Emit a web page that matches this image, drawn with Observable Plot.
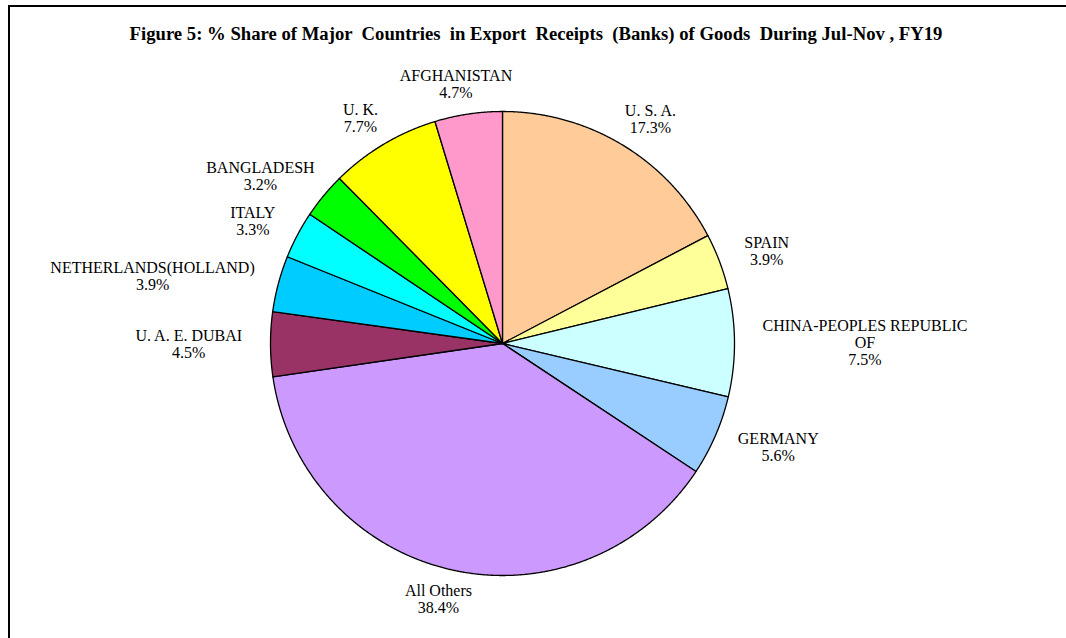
<!DOCTYPE html>
<html><head><meta charset="utf-8">
<script src="https://cdn.jsdelivr.net/npm/d3@7"></script>
<script src="https://cdn.jsdelivr.net/npm/@observablehq/plot@0.6"></script>
<style>
html,body{margin:0;padding:0;background:#fff;width:1066px;height:638px;overflow:hidden;}
#frame{position:absolute;left:8px;top:5px;width:1100px;height:700px;border-left:2px solid #000;border-top:2px solid #000;}
#title{position:absolute;left:0;top:17px;width:1052px;text-align:center;font-family:"Liberation Serif","Times New Roman",serif;font-weight:bold;font-size:18.7px;line-height:20px;white-space:pre;color:#000;}
#chart{position:absolute;left:0;top:43px;}
</style>
</head><body>
<div id="frame">
  <div id="title">Figure 5: % Share of Major  Countries  in Export  Receipts  (Banks) of Goods  During Jul-Nov , FY19</div>
  <div id="chart"></div>
</div>
<script>
// ---- data ----
const countries = ["U. S. A.", "SPAIN", "CHINA-PEOPLES REPUBLIC\nOF", "GERMANY", "All Others",
  "U. A. E. DUBAI", "NETHERLANDS(HOLLAND)", "ITALY", "BANGLADESH", "U. K.", "AFGHANISTAN"];
const shares = [17.3, 3.9, 7.5, 5.6, 38.4, 4.5, 3.9, 3.3, 3.2, 7.7, 4.7];
const sliceColors = ["#FFCC99", "#FFFF99", "#CCFFFF", "#99CCFF", "#CC99FF",
  "#993366", "#00CCFF", "#00FFFF", "#00FF00", "#FFFF00", "#FF99CC"];

// ---- layout ----
const W = 1056, H = 588;
const cx = 492, cy = 293;   // pie centre inside the svg
const R = 232;              // radius in scale units (1 unit = 1px)
const gapX = 28, gapY = 13; // label distance outside the rim
const fontSize = 16, lineH = 1.06;
const fontFamily = "Liberation Serif, Times New Roman, serif";

const rows = countries.map((c, i) => ({name: c, share: shares[i], color: sliceColors[i]}));
const arcs = d3.pie().sort(null).value(d => d.share)(rows);

const ctx = document.createElement("canvas").getContext("2d");
ctx.font = `${fontSize}px "Liberation Serif"`;

const marks = [];
const labels = [];
for (const a of arcs) {
  const pts = [{x: 0, y: 0}];
  const n = Math.max(2, Math.ceil((a.endAngle - a.startAngle) / 0.004));
  for (let i = 0; i <= n; i++) {
    const t = a.startAngle + (a.endAngle - a.startAngle) * i / n;
    pts.push({x: R * Math.sin(t), y: -R * Math.cos(t)});
  }
  pts.push({x: 0, y: 0});
  marks.push(Plot.line(pts, {x: "x", y: "y", fill: a.data.color, stroke: "#000", strokeWidth: 1.3, strokeLinejoin: "round"}));

  const text = a.data.name + "\n" + a.data.share.toFixed(1) + "%";
  const lines = text.split("\n");
  const w = Math.max(...lines.map(l => ctx.measureText(l).width));
  const h = lines.length * fontSize * lineH;
  const mid = (a.startAngle + a.endAngle) / 2;
  const ux = Math.sin(mid), uy = -Math.cos(mid);
  labels.push({
    x: ux * (R + gapX) + ux * w / 2,
    y: uy * (R + gapY) + uy * h / 2,
    text
  });
}
marks.push(Plot.text(labels, {x: "x", y: "y", text: "text", fontSize, fontFamily, lineHeight: lineH,
  textAnchor: "middle", lineAnchor: "middle", fill: "#000"}));

const chart = Plot.plot({
  width: W, height: H,
  margin: 0,
  x: {domain: [-cx, W - cx], range: [0, W], axis: null},
  y: {domain: [-cy, H - cy], range: [0, H], axis: null},
  style: {background: "transparent", overflow: "visible"},
  marks
});
document.getElementById("chart").appendChild(chart);
</script>
</body></html>
